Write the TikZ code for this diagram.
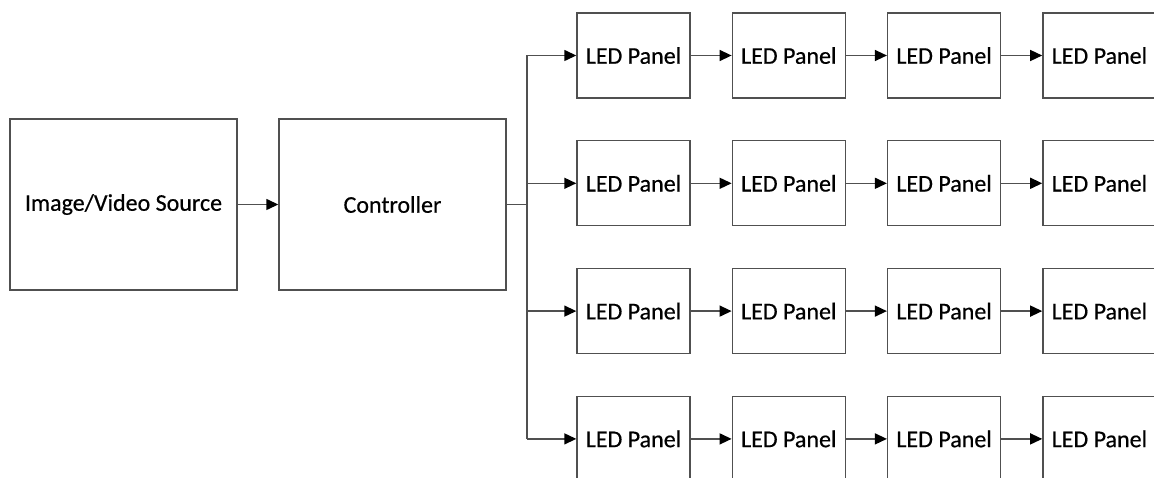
\documentclass[tikz,border=0pt]{standalone}
\usepackage{fontspec}
\setmainfont{Carlito}
\newfontfamily\boxfont{Carlito}[FakeBold=0.5]
\usetikzlibrary{arrows.meta}
\definecolor{linegray}{RGB}{80,80,80}
\begin{document}
\begin{tikzpicture}[x=1pt,y=-1pt,
  box/.style={draw=linegray, line width=1.4pt, inner sep=0pt, font=\boxfont\fontsize{24}{28}\selectfont},
  panel/.style={box, minimum width=113pt, minimum height=85pt},
  big/.style={box, minimum width=227pt, minimum height=171pt},
  conn/.style={draw=linegray, line width=1.4pt},
  arr/.style={conn, -{Triangle[length=12pt,width=11pt,fill=black,color=black]}}]
\useasboundingbox (0,0) rectangle (1154,478);
\clip (0,0) rectangle (1154,478);
\node[big] (src) at (123.5,204.5) {Image/Video Source};
\node[big] (ctrl) at (392.5,204.5) {Controller};
\draw[arr] (src.east) -- (ctrl.west);
\foreach \j in {1,...,4}{
  \foreach \i in {1,...,4}{
    \node[panel] (p-\j-\i) at ({633.5+155.3*(\i-1)},{55.5+127.8*(\j-1)}) {LED Panel};
  }
  \foreach \i/\k in {1/2,2/3,3/4}{
    \draw[arr] (p-\j-\i.east) -- (p-\j-\k.west);
  }
}
\coordinate (bus) at (527,204.5);
\draw[conn] (ctrl.east) -- (bus);
\draw[conn] (bus |- p-1-1.west) -- (bus |- p-4-1.west);
\foreach \j in {1,...,4}{
  \draw[arr] (bus |- p-\j-1.west) -- (p-\j-1.west);
}
\end{tikzpicture}
\end{document}
